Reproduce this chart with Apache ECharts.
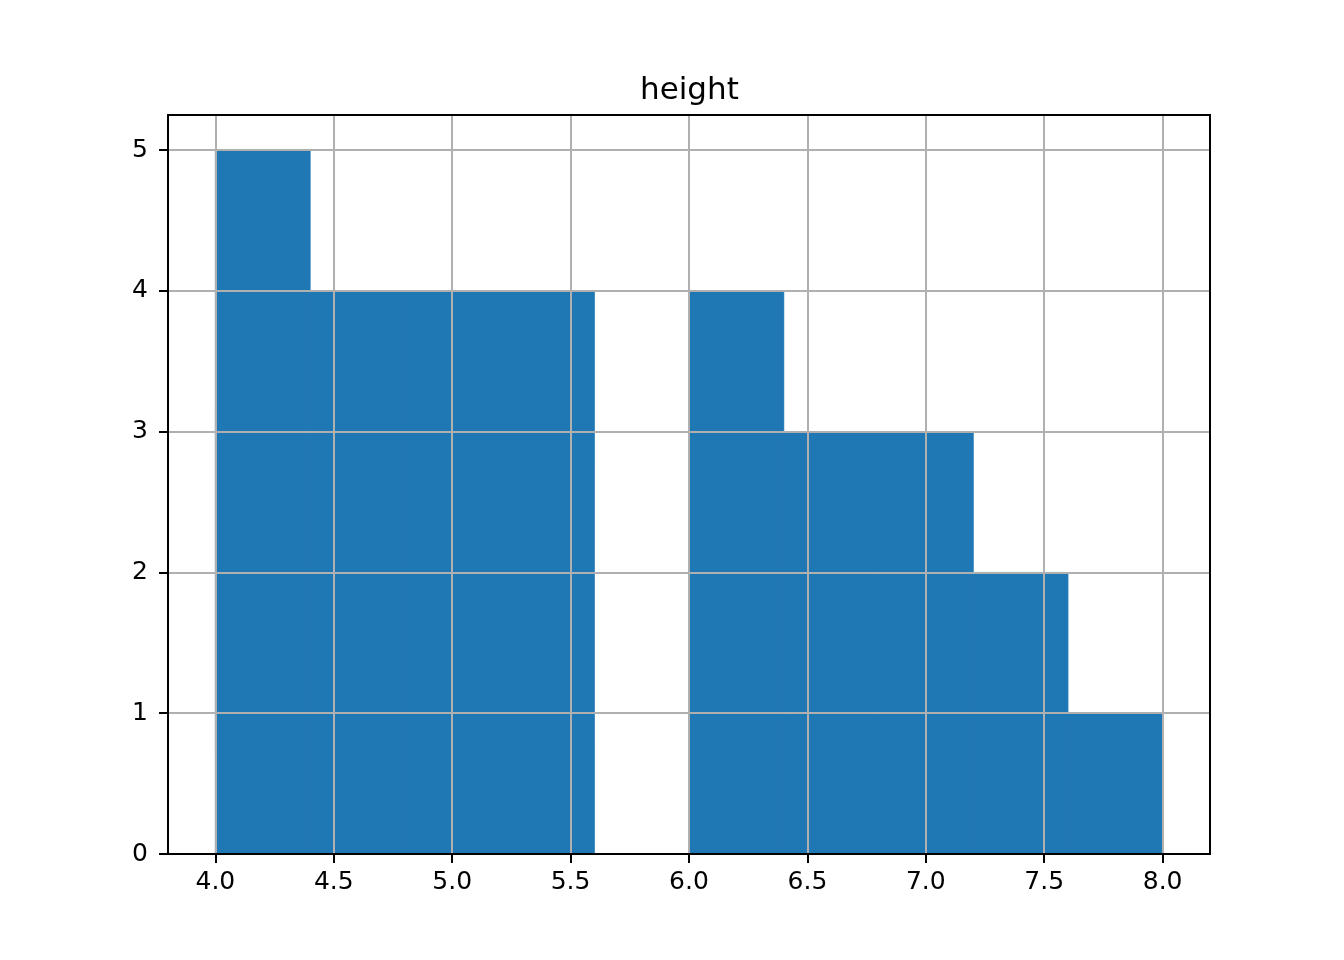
<!DOCTYPE html>
<html>
<head>
<meta charset="utf-8">
<script src="https://cdn.jsdelivr.net/npm/echarts@6/dist/echarts.min.js"></script>
<style>html,body{margin:0;padding:0;background:#fff}#c{width:1344px;height:960px}</style>
</head>
<body>
<div id="c"></div>
<script>
const binEdges = [4.0, 4.4, 4.8, 5.2, 5.6, 6.0, 6.4, 6.8, 7.2, 7.6, 8.0];
const counts = [5, 4, 4, 4, 0, 4, 3, 3, 2, 1];
const xTicks = [4.0, 4.5, 5.0, 5.5, 6.0, 6.5, 7.0, 7.5, 8.0];
const yTicks = [0, 1, 2, 3, 4, 5];
const title = 'height';

const data = counts.map((c, i) => [binEdges[i], binEdges[i + 1], c]);
const chart = echarts.init(document.getElementById('c'));
const font = 'DejaVu Sans';
const gridLine = { color: '#b0b0b0', width: 2, type: 'solid' };
chart.setOption({
  animation: false,
  title: {
    text: title, left: 635, top: 70,
    textStyle: { fontFamily: font, fontSize: 31, fontWeight: 'normal', color: '#000' }
  },
  grid: { left: 168, right: 134, top: 115, bottom: 106, show: true, z: 10, borderColor: '#000', borderWidth: 2, backgroundColor: 'transparent' },
  xAxis: {
    type: 'value', min: 3.8, max: 8.2, z: 5,
    axisLine: { show: true, onZero: false, lineStyle: { color: '#000', width: 2 } },
    axisTick: { show: true, length: 9, customValues: xTicks, lineStyle: { color: '#000', width: 2 } },
    axisLabel: {
      fontFamily: font, fontSize: 25, color: '#000', margin: 16,
      customValues: xTicks,
      formatter: v => v.toFixed(1)
    },
    splitLine: { show: false }
  },
  yAxis: {
    type: 'value', min: 0, max: 5.25, z: 5,
    axisLine: { show: true, lineStyle: { color: '#000', width: 2 } },
    axisTick: { show: true, length: 9, customValues: yTicks, lineStyle: { color: '#000', width: 2 } },
    axisLabel: {
      fontFamily: font, fontSize: 25, color: '#000', margin: 20,
      customValues: yTicks,
      formatter: v => String(v)
    },
    splitLine: { show: false }
  },
  series: [{
    type: 'custom', z: 2,
    renderItem: (params, api) => {
      const p0 = api.coord([api.value(0), 0]);
      const p1 = api.coord([api.value(1), api.value(2)]);
      return {
        type: 'rect',
        shape: { x: p0[0], y: p1[1], width: p1[0] - p0[0], height: p0[1] - p1[1] },
        style: { fill: '#1f77b4', stroke: '#1f77b4', lineWidth: 1 }
      };
    },
    encode: { x: [0, 1], y: 2 },
    data: data,
    markLine: {
      silent: true, symbol: 'none', z: 4,
      label: { show: false },
      lineStyle: gridLine,
      data: xTicks.map(v => ({ xAxis: v })).concat(yTicks.filter(v => v > 0).map(v => ({ yAxis: v })))
    }
  }]
});
</script>
</body>
</html>
